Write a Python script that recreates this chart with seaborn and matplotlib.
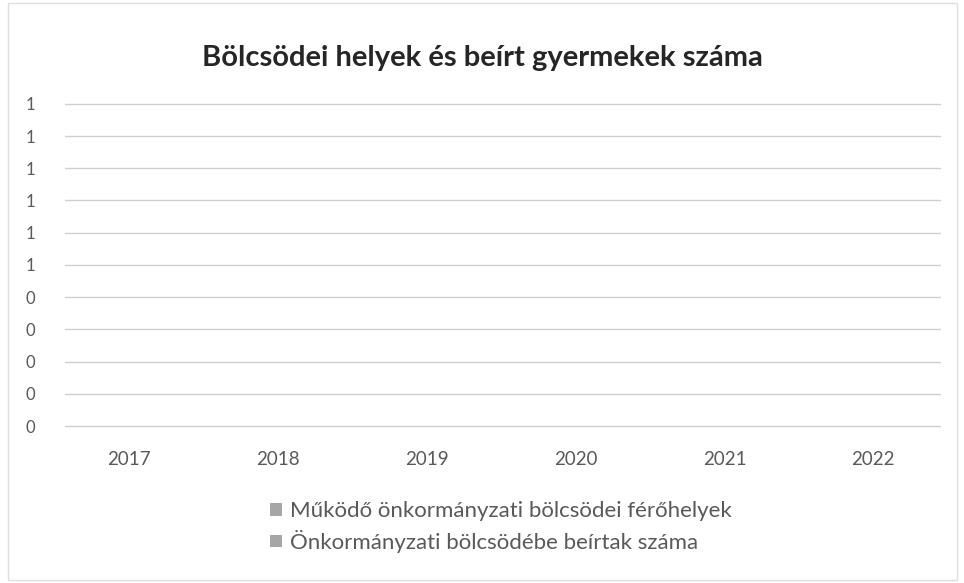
import pandas as pd
import numpy as np
import seaborn as sns
import matplotlib.pyplot as plt

# Data (the chart in the reference is empty: every value is zero)
years = ["2017", "2018", "2019", "2020", "2021", "2022"]
ferohelyek = [0, 0, 0, 0, 0, 0]
beirtak = [0, 0, 0, 0, 0, 0]
series_names = ["Működő önkormányzati bölcsödei férőhelyek",
                "Önkormányzati bölcsödébe beírtak száma"]
title = "Bölcsödei helyek és beírt gyermekek száma"

df = pd.DataFrame({
    "year": years * 2,
    "value": ferohelyek + beirtak,
    "series": [series_names[0]] * len(years) + [series_names[1]] * len(years),
})

sns.set_theme(style="white")
plt.rcParams['font.family'] = ['Lato', 'DejaVu Sans']

fig = plt.figure(figsize=(9.64, 5.83), dpi=100)
ax = fig.add_axes([0.057, 0.269, 0.926, 0.553])

sns.barplot(data=df, x="year", y="value", hue="series",
            palette=["#a6a6a6", "#a6a6a6"], ax=ax, width=0.6, linewidth=0)

ax.set_ylim(0, 1)
ax.set_yticks(np.arange(0, 1.01, 0.1))
# Excel "0" number format: 0.5 and up shows as 1
ax.set_yticklabels(["0" if v < 0.5 else "1" for v in np.arange(0, 1.01, 0.1)])
ax.set_axisbelow(True)
for s in ax.spines.values():
    s.set_visible(False)
# gridlines only across the plot area (65..940 px)
for v in np.arange(0, 1.01, 0.1):
    ax.axhline(v, xmin=0.011, xmax=0.991, color="#cfcfcf", linewidth=1,
               zorder=0, clip_on=False)
ax.tick_params(axis="y", labelsize=12, colors="#595959", length=0, pad=14)
ax.tick_params(axis="x", labelsize=13.5, colors="#595959", length=0, pad=18)
ax.set_xlabel("")
ax.set_ylabel("")

fig.text(0.5, 0.90, title, ha="center", va="center",
         fontsize=21, fontweight="bold", color="#262626")

handles, labels = ax.get_legend_handles_labels()
ax.legend_.remove()
fig.legend(handles, labels, loc="center", bbox_to_anchor=(0.52, 0.096),
           ncol=1, frameon=False, fontsize=16, labelcolor="#595959",
           handlelength=0.5, handleheight=0.5, handletextpad=0.4,
           labelspacing=0.4)

# faint frame of the chart area
fig.patches.append(plt.Rectangle((0.008, 0.005), 0.985, 0.99, transform=fig.transFigure,
                                 fill=False, edgecolor="#e0e0e0", linewidth=1))

fig.savefig("out.png", dpi=100)
